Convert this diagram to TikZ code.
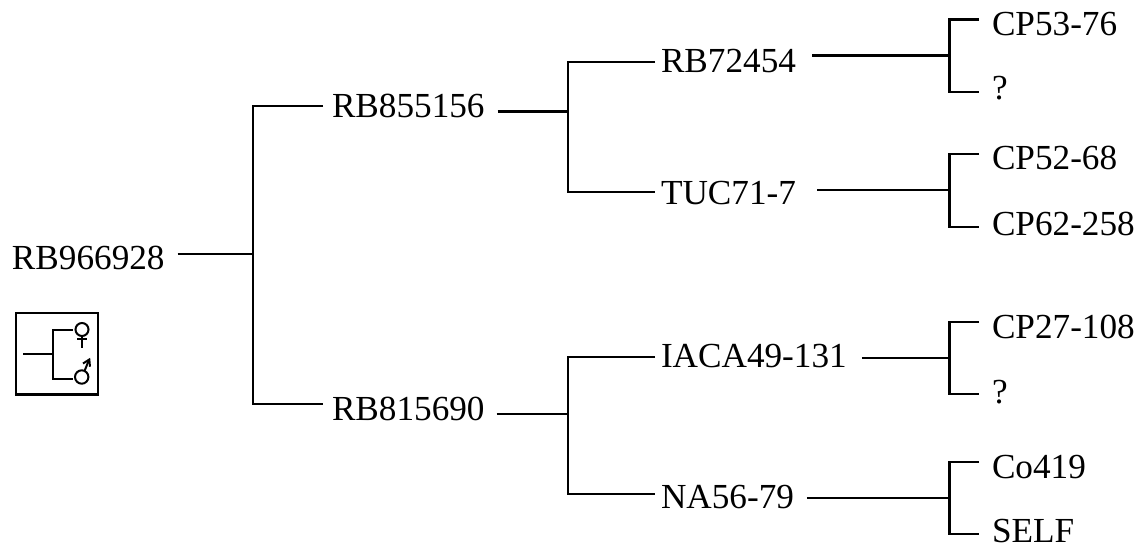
\documentclass[tikz,border=0pt]{standalone}
\usepackage{fontspec}
\setmainfont{Liberation Serif}
\begin{document}
\begin{tikzpicture}[x=1pt,y=-1pt,
  lbl/.style={anchor=base west,inner xsep=0pt,inner ysep=0pt,outer sep=0pt,font=\fontsize{35.2pt}{36pt}\selectfont,text height=2*#1,text depth=0pt},
  link/.style={line width=2.8pt,line cap=butt,line join=miter},
  sym/.style={line width=2pt}]
\useasboundingbox (0,0) rectangle (1139,545);
% nodes (baseline positions)
\node[lbl=15pt] (root) at (12,269) {RB966928};
\node[lbl=6.5pt] (a) at (332,118) {RB855156};
\node[lbl=6pt] (b) at (332,420) {RB815690};
\node[lbl=17pt] (a1) at (661,72.5) {RB72454};
\node[lbl=15pt] (a2) at (661,205) {TUC71-7};
\node[lbl=9pt] (b1) at (661,367) {IACA49-131};
\node[lbl=10pt] (b2) at (661,508) {NA56-79};
\node[lbl=16.5pt] (l1) at (992,36) {CP53-76};
\node[lbl=8pt] (l2) at (992,100) {?};
\node[lbl=16pt] (l3) at (992,170) {CP52-68};
\node[lbl=9pt] (l4) at (992,236) {CP62-258};
\node[lbl=16pt] (l5) at (992,338) {CP27-108};
\node[lbl=9pt] (l6) at (992,403) {?};
\node[lbl=16pt] (l7) at (992,478) {Co419};
\node[lbl=8pt] (l8) at (992,542) {SELF};
% junctions
\coordinate (jr) at (253,254);
\coordinate (ja) at (568,111.5);
\coordinate (jb) at (568,414);
\coordinate (ja1) at (949.5,55.5);
\coordinate (ja2) at (949.5,190);
\coordinate (jb1) at (949.5,358);
\coordinate (jb2) at (949.5,498);
% connectors
\draw[link] ([xshift=13pt]root.east) -- (jr);
\draw[link] ([xshift=-9pt,yshift=5.5pt]a.west) -| (jr) |- ([xshift=-9pt,yshift=10pt]b.west);
\draw[link] ([xshift=13pt]a.east) -- (ja);
\draw[link] ([xshift=12pt]b.east) -- (jb);
\draw[link] ([xshift=-6pt,yshift=-6.5pt]a1.west) -| (ja) |- ([xshift=-6pt,yshift=-2pt]a2.west);
\draw[link] ([xshift=-6pt,yshift=1pt]b1.west) -| (jb) |- ([xshift=-6pt,yshift=4pt]b2.west);
\draw[link] ([xshift=16.5pt]a1.east) -- (ja1);
\draw[link] ([xshift=21.5pt]a2.east) -- (ja2);
\draw[link] ([xshift=15pt]b1.east) -- (jb1);
\draw[link] ([xshift=13pt]b2.east) -- (jb2);
\draw[link] ([xshift=-13pt]l1.west) -| (ja1) |- ([xshift=-13pt]l2.west);
\draw[link] ([xshift=-13pt]l3.west) -| (ja2) |- ([xshift=-13pt]l4.west);
\draw[link] ([xshift=-13pt]l5.west) -| (jb1) |- ([xshift=-13pt]l6.west);
\draw[link] ([xshift=-13pt]l7.west) -| (jb2) |- ([xshift=-13pt]l8.west);
% legend
\draw[line width=2.4pt] (15.7,312.7) rectangle (97.7,394.3);
\draw[sym] (23,354) -- (52,354);
\draw[sym] (73,329.5) -- (52.5,329.5) -- (52.5,379) -- (73,379);
\draw[sym] (82,329.5) circle (6.5);
\draw[sym] (82,336) -- (82,348) (77,338.5) -- (87,338.5);
\draw[sym] (81.7,377) circle (6.7);
\draw[sym] (84.5,371) -- (89,360);
\draw[sym] (83,363.5) -- (89.3,359.5) -- (90,366.7);
\end{tikzpicture}
\end{document}
